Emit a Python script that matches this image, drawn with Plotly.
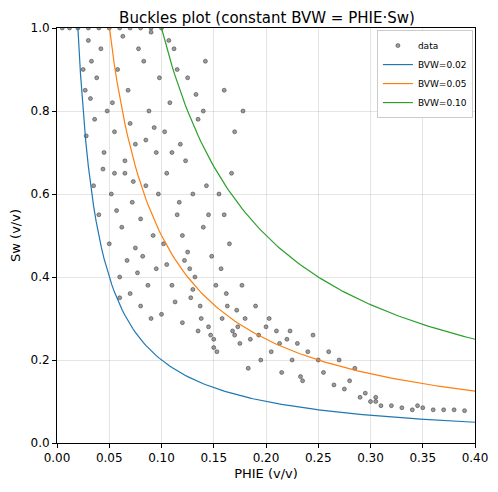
import plotly.graph_objects as go

# scatter samples (PHIE, Sw)
phie = [0.005, 0.012, 0.02, 0.03, 0.04, 0.05, 0.06, 0.07, 0.08, 0.09, 0.10,
        0.025, 0.028, 0.032, 0.035, 0.038, 0.04, 0.042, 0.045, 0.048, 0.03, 0.036, 0.044, 0.027, 0.033,
        0.05, 0.052, 0.055, 0.058, 0.06, 0.062, 0.065, 0.068, 0.07, 0.072, 0.075, 0.078, 0.08,
        0.082, 0.085, 0.088, 0.09, 0.092, 0.095, 0.098, 0.053, 0.057, 0.063, 0.067, 0.073, 0.077,
        0.083, 0.087, 0.093, 0.097, 0.06, 0.07, 0.08, 0.09, 0.065, 0.075, 0.085, 0.055, 0.095,
        0.10, 0.102, 0.105, 0.108, 0.11, 0.112, 0.115, 0.118, 0.12, 0.122, 0.125, 0.128, 0.13,
        0.132, 0.135, 0.138, 0.14, 0.142, 0.145, 0.148, 0.103, 0.107, 0.113, 0.117, 0.123, 0.127,
        0.133, 0.137, 0.143, 0.147, 0.11, 0.12, 0.13, 0.14, 0.105, 0.115, 0.125, 0.135, 0.145,
        0.15, 0.152, 0.155, 0.158, 0.16, 0.162, 0.165, 0.168, 0.17, 0.172, 0.175, 0.178,
        0.153, 0.157, 0.163, 0.167, 0.173, 0.177, 0.15, 0.16, 0.17,
        0.18, 0.185, 0.19, 0.195, 0.20, 0.205, 0.21, 0.215, 0.22, 0.225, 0.23, 0.235, 0.24,
        0.245, 0.25, 0.183, 0.193, 0.203, 0.213, 0.223, 0.233,
        0.255, 0.26, 0.265, 0.27, 0.275, 0.28, 0.285, 0.29, 0.295, 0.30, 0.305, 0.31,
        0.32, 0.33, 0.34, 0.35, 0.36, 0.37, 0.38, 0.39, 0.345, 0.305]
sw = [1.0, 1.0, 1.0, 1.0, 1.0, 1.0, 1.0, 1.0, 1.0, 1.0, 1.0,
      0.9, 0.74, 0.83, 0.62, 0.88, 0.55, 0.95, 0.7, 0.8, 0.97, 0.78, 0.66, 0.85, 0.92,
      0.48, 0.6, 0.75, 0.9, 0.4, 0.52, 0.68, 0.85, 0.36, 0.58, 0.72, 0.95, 0.33,
      0.45, 0.62, 0.8, 0.3, 0.5, 0.7, 0.88, 0.82, 0.56, 0.98, 0.44, 0.63, 0.41,
      0.92, 0.38, 0.76, 0.6, 0.35, 0.77, 0.54, 0.99, 0.65, 0.47, 0.73, 0.65, 0.42,
      0.31, 0.48, 0.65, 0.82, 0.38, 0.95, 0.55, 0.72, 0.29, 0.44, 0.88, 0.35, 0.6,
      0.4, 0.78, 0.3, 0.52, 0.92, 0.28, 0.45, 0.75, 0.97, 0.34, 0.58, 0.68, 0.42,
      0.84, 0.33, 0.62, 0.26, 0.7, 0.5, 0.37, 0.8, 0.43, 0.9, 0.46, 0.27, 0.55,
      0.25, 0.38, 0.6, 0.3, 0.85, 0.36, 0.48, 0.27, 0.75, 0.32, 0.24, 0.8,
      0.22, 0.42, 0.33, 0.65, 0.28, 0.38, 0.23, 0.55, 0.26,
      0.3, 0.25, 0.33, 0.2, 0.28, 0.22, 0.27, 0.17, 0.25, 0.2, 0.24, 0.15, 0.22,
      0.26, 0.2, 0.18, 0.26, 0.3, 0.24, 0.27, 0.16,
      0.17, 0.22, 0.14, 0.2, 0.13, 0.15, 0.18, 0.11, 0.12, 0.1, 0.11, 0.09,
      0.09, 0.085, 0.08, 0.085, 0.08, 0.08, 0.08, 0.078, 0.09, 0.1]

bvw_values = [0.02, 0.05, 0.10]
bvw_colors = ["#1f77b4", "#ff7f0e", "#2ca02c"]
phie_grid = [0.005 + 0.0025 * i for i in range(159)]

fig = go.Figure()
fig.add_trace(go.Scatter(
    x=phie, y=sw, mode="markers", name="data",
    marker=dict(size=4, color="rgba(90,90,90,0.6)",
                line=dict(color="rgba(30,30,30,0.75)", width=0.6)),
))
for bvw, color in zip(bvw_values, bvw_colors):
    fig.add_trace(go.Scatter(
        x=phie_grid, y=[bvw / p for p in phie_grid], mode="lines",
        name=f"BVW={bvw:.2f}", line=dict(color=color, width=1.2),
    ))

axis_common = dict(
    showline=True, linecolor="black", mirror=True, ticks="outside",
    ticklen=4, tickcolor="black", showgrid=True, gridcolor="rgba(0,0,0,0.1)",
    zeroline=False, tickfont=dict(size=12, color="black"), automargin=False,
)
fig.update_xaxes(range=[0, 0.4], dtick=0.05, tickformat=".2f",
                 title=dict(text="PHIE (v/v)", font=dict(size=13), standoff=4),
                 **axis_common)
fig.update_yaxes(range=[0, 1], dtick=0.2, tickformat=".1f",
                 title=dict(text="Sw (v/v)", font=dict(size=13), standoff=6),
                 **axis_common)
# page has ~8px body offset, margins compensate
fig.update_layout(
    width=498, height=492,
    title=dict(text="Buckles plot (constant BVW = PHIE·Sw)", x=0.52, y=0.99,
               xanchor="center", font=dict(size=15, color="black"),
               automargin=False),
    font=dict(family="DejaVu Sans", color="black"),
    plot_bgcolor="white", paper_bgcolor="white",
    margin=dict(l=49, r=31, t=20, b=57, autoexpand=False),
    showlegend=True,
    legend=dict(x=0.995, y=0.995, xanchor="right", yanchor="top",
                bgcolor="white", bordercolor="#cccccc", borderwidth=1,
                font=dict(size=9), tracegroupgap=0, itemwidth=30),
)

fig.write_html("out.html")
